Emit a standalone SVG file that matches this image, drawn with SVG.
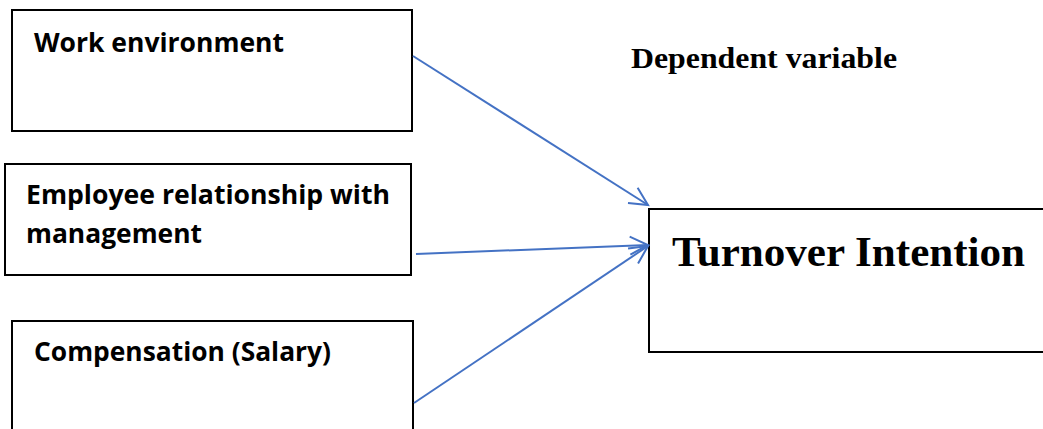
<svg xmlns="http://www.w3.org/2000/svg" width="1043" height="429" viewBox="0 0 1043 429">
<defs>
<style>
.box{fill:#fff;stroke:#000;stroke-width:2}
.lbl{font-family:"Open Sans","Liberation Sans",sans-serif;font-weight:bold;font-size:27px;fill:#000}
.ser{font-family:"Liberation Serif",serif;font-weight:bold;fill:#000}
.conn{stroke:#4472C4;stroke-width:2;fill:none}
</style>
<marker id="arr" markerWidth="24" markerHeight="24" refX="20" refY="12" orient="auto" markerUnits="userSpaceOnUse">
<polyline points="2,3 20,12 2,21" fill="none" stroke="#4472C4" stroke-width="2"/>
</marker>
</defs>
<rect width="1043" height="429" fill="#fff"/>
<g id="work-environment">
<rect class="box" x="12" y="10" width="400" height="121"/>
<text class="lbl" x="34" y="52" textLength="250" lengthAdjust="spacingAndGlyphs">Work environment</text>
</g>
<g id="employee-relationship">
<rect class="box" x="5" y="164" width="406" height="111"/>
<text class="lbl" x="26" y="204" textLength="364" lengthAdjust="spacingAndGlyphs">Employee relationship with</text>
<text class="lbl" x="26" y="243" textLength="176" lengthAdjust="spacingAndGlyphs">management</text>
</g>
<g id="compensation">
<rect class="box" x="12" y="321" width="401" height="120"/>
<text class="lbl" x="34" y="361" textLength="297" lengthAdjust="spacingAndGlyphs">Compensation (Salary)</text>
</g>
<g id="dependent-label">
<text class="ser" x="631" y="68" font-size="30" textLength="266" lengthAdjust="spacingAndGlyphs">Dependent variable</text>
</g>
<g id="turnover-intention">
<rect class="box" x="649" y="209" width="400" height="143"/>
<text class="ser" x="672" y="266" font-size="43" textLength="353" lengthAdjust="spacingAndGlyphs">Turnover Intention</text>
</g>
<g id="connectors">
<line class="conn" x1="413" y1="56" x2="648" y2="205" marker-end="url(#arr)"/>
<line class="conn" x1="416" y1="254" x2="648" y2="245" marker-end="url(#arr)"/>
<line class="conn" x1="414" y1="403" x2="648" y2="246" marker-end="url(#arr)"/>
</g>
</svg>
